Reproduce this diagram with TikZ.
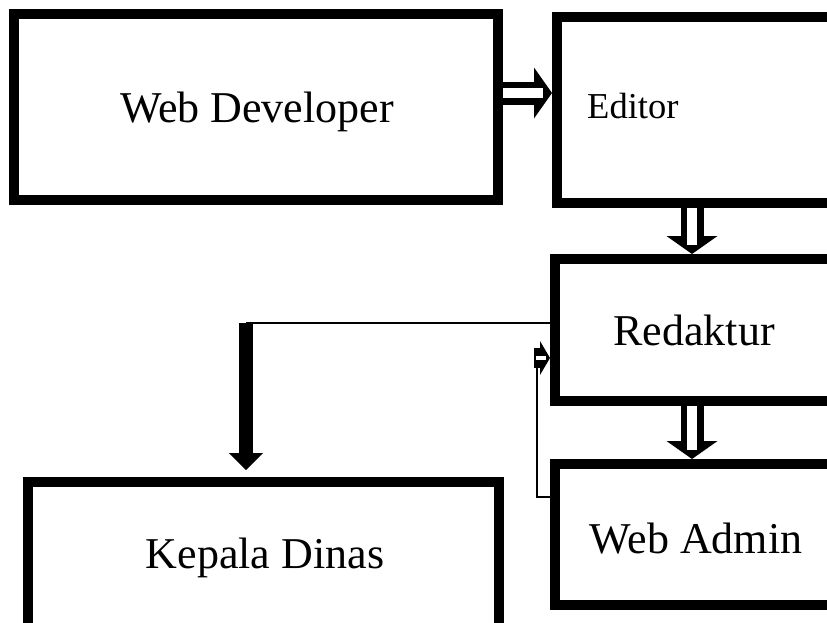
\documentclass[tikz,border=0pt]{standalone}
\usepackage{fontspec}
\setmainfont{Liberation Serif}
\usetikzlibrary{arrows.meta}
\begin{document}
\begin{tikzpicture}[x=1pt,y=-1pt,
  box/.style={draw=black, line width=10pt, inner sep=0pt, minimum width=#1},
  lbl/.style={inner sep=0pt, font=\fontsize{44}{50}\selectfont},
  blk/.style={draw=black, line width=23pt, -{Triangle[line width=0pt, length=18pt, width=51pt]}},
  blkin/.style={draw=white, line width=10pt, shorten >=9pt},
  thinln/.style={draw=black, line width=1.5pt},
  solidarr/.style={draw=black, line width=14pt, -{Triangle[line width=0pt, length=17pt, width=34pt]}},
  smallblk/.style={draw=black, line width=20pt, -{Triangle[line width=0pt, length=10pt, width=34pt]}},
  smallin/.style={draw=white, line width=4pt, shorten <=2pt, shorten >=4pt}]
\useasboundingbox (0,0) rectangle (827,622);
\clip (0,0) rectangle (827,622);
\fill[white] (0,0) rectangle (827,622);
% boxes
\node[box=484pt, minimum height=186pt] (wd) at (256,107) {};
\node[box=283pt, minimum height=186pt] (ed) at (698.5,110) {};
\node[box=285pt, minimum height=142pt] (red) at (697.5,330) {};
\node[box=285pt, minimum height=141pt] (wa) at (697.5,534.5) {};
\node[box=471pt, minimum height=158pt] (kd) at (263.5,561) {};
% texts
\node[lbl, anchor=base] (wdt) at (257,122) {Web Developer};
\node[lbl, anchor=base west, font=\fontsize{36.5}{42}\selectfont] (edt) at (587,118) {Editor};
\node[lbl, anchor=base] (redt) at (694,345) {Redaktur};
\node[lbl, anchor=base] (wat) at (696,553) {Web Admin};
\node[lbl, anchor=base] (kdt) at (265,568) {Kepala Dinas};
% helper coordinates
\coordinate (h1) at (0,93);
\coordinate (v1) at (692,0);
\coordinate (k1) at (246,323);
\coordinate (fb) at (537,497);
\coordinate (fa) at (534,358);
% Web Developer -> Editor
\draw[blk] (wd.east |- h1) -- (ed.west |- h1);
\draw[blkin] (wd.east |- h1) -- (ed.west |- h1);
% Editor -> Redaktur
\draw[blk] (ed.south -| v1) -- (red.north -| v1);
\draw[blkin] (ed.south -| v1) -- (red.north -| v1);
% Redaktur -> Web Admin
\draw[blk] (red.south -| v1) -- (wa.north -| v1);
\draw[blkin] (red.south -| v1) -- (wa.north -| v1);
% Redaktur -> Kepala Dinas
\draw[thinln] (red.west |- k1) -- (k1);
\draw[solidarr, shorten >=7pt] (k1) -- (kd.north -| k1);
% Web Admin -> Redaktur (feedback)
\draw[thinln] (wa.west |- fb) -- (fb) -- (fb |- fa);
\draw[smallblk] (fa) -- (red.west |- fa);
\draw[smallin] (fa) -- (red.west |- fa);
\end{tikzpicture}
\end{document}
